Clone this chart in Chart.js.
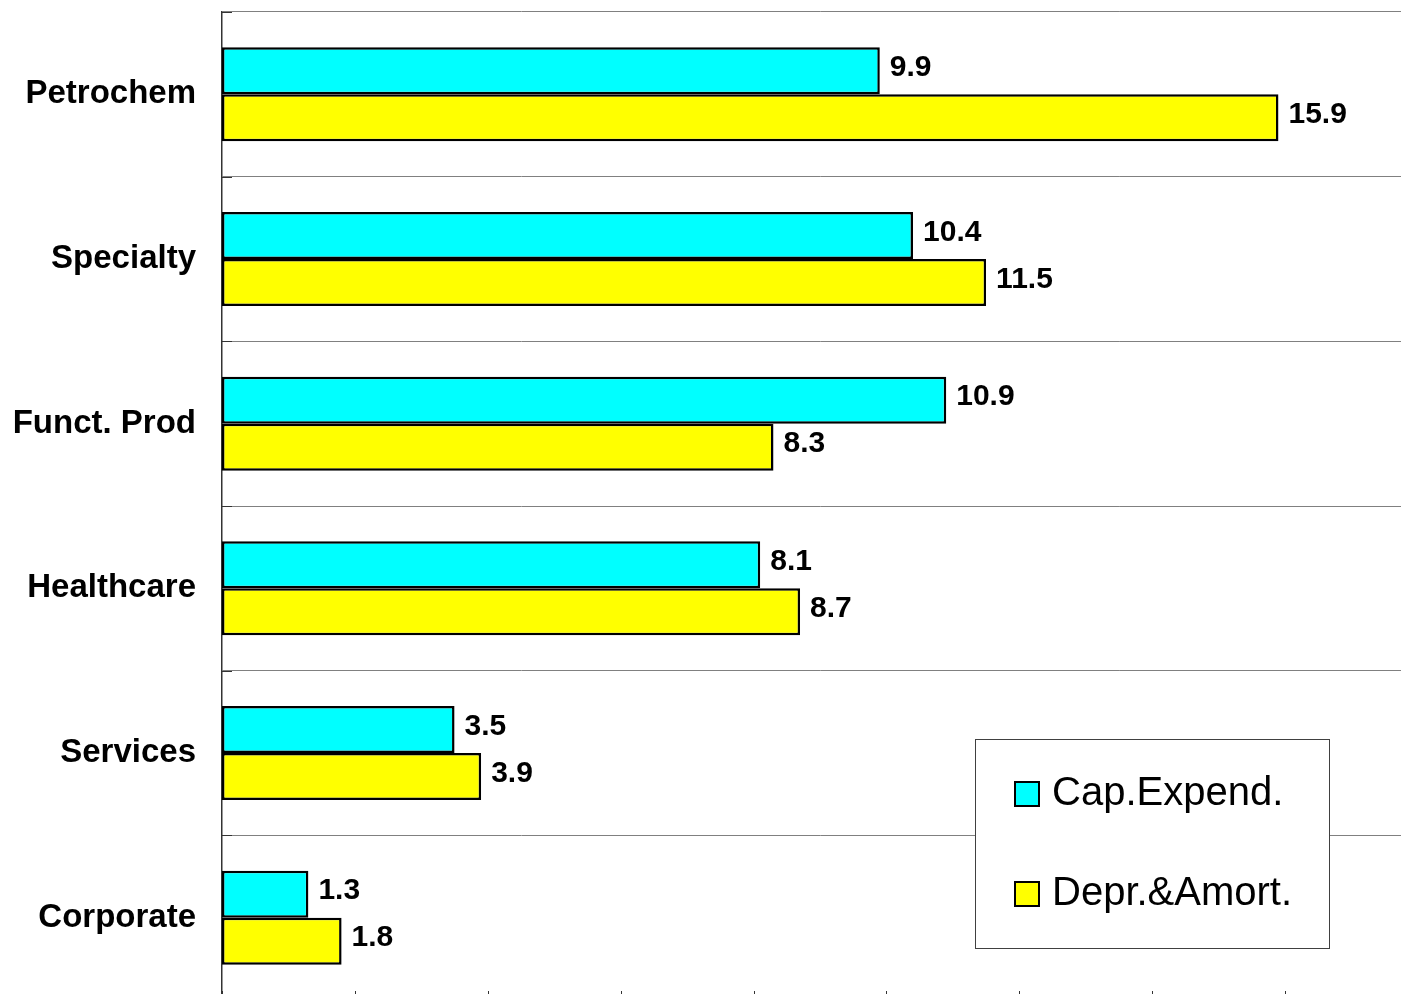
<!DOCTYPE html>
<html>
<head>
<meta charset="utf-8">
<script src="https://cdn.jsdelivr.net/npm/chart.js@4.4.0/dist/chart.umd.min.js"></script>
<style>
  html, body { margin: 0; padding: 0; background: #fff; overflow: hidden; }
  #wrap { width: 1418px; height: 1000px; }
</style>
</head>
<body>
<div id="wrap"><canvas id="capexChart" width="1418" height="1000"></canvas></div>
<script>
// segments and values
const segments = ["Petrochem", "Specialty", "Funct. Prod", "Healthcare", "Services", "Corporate"];
const capExpend = [9.9, 10.4, 10.9, 8.1, 3.5, 1.3];
const deprAmort = [15.9, 11.5, 8.3, 8.7, 3.9, 1.8];
const seriesNames = ["Cap.Expend.", "Depr.&Amort."];
const seriesColors = ["#00ffff", "#ffff00"];

const FONT = "'Liberation Sans', Arial, sans-serif";

// value labels at the end of every bar
const valueLabels = {
  id: "valueLabels",
  afterDatasetsDraw(chart) {
    const ctx = chart.ctx;
    ctx.save();
    ctx.font = "bold 30px " + FONT;
    ctx.fillStyle = "#000";
    ctx.textAlign = "left";
    ctx.textBaseline = "middle";
    chart.data.datasets.forEach((ds, i) => {
      chart.getDatasetMeta(i).data.forEach((bar, j) => {
        ctx.fillText(ds.data[j].toFixed(1), bar.x + 10, bar.y - 3);
      });
    });
    ctx.restore();
  },
};

// short tick marks pointing into the plot, plus the boxed legend
const axisTicksAndLegend = {
  id: "axisTicksAndLegend",
  afterDraw(chart) {
    const ctx = chart.ctx;
    const area = chart.chartArea;
    const x = chart.scales.x;
    const y = chart.scales.y;
    ctx.save();
    ctx.strokeStyle = "#333";
    ctx.lineWidth = 1;

    // category boundaries on the left axis
    const band = (y.getPixelForTick(1) - y.getPixelForTick(0));
    for (let i = 0; i <= segments.length; i++) {
      const py = Math.round(y.getPixelForTick(0) - band / 2 + i * band) + 0.5;
      ctx.beginPath();
      ctx.moveTo(area.left, py);
      ctx.lineTo(area.left + 10, py);
      ctx.stroke();
    }

    // value ticks along the bottom
    x.ticks.forEach((t) => {
      const px = Math.round(x.getPixelForValue(t.value)) + 0.5;
      ctx.beginPath();
      ctx.moveTo(px, area.bottom);
      ctx.lineTo(px, area.bottom - 9);
      ctx.stroke();
    });

    // legend box
    const lx = 975, ly = 739, lw = 354, lh = 209;
    ctx.fillStyle = "#fff";
    ctx.fillRect(lx, ly, lw, lh);
    ctx.strokeStyle = "#404040";
    ctx.strokeRect(lx + 0.5, ly + 0.5, lw, lh);

    ctx.font = "40px " + FONT;
    ctx.textBaseline = "middle";
    ctx.textAlign = "left";
    seriesNames.forEach((name, i) => {
      const cy = 794 + i * 100;
      ctx.fillStyle = seriesColors[i];
      ctx.fillRect(1015, cy - 12, 24, 24);
      ctx.strokeStyle = "#000";
      ctx.lineWidth = 2;
      ctx.strokeRect(1015, cy - 12, 24, 24);
      ctx.fillStyle = "#000";
      ctx.fillText(name, 1052, cy);
    });
    ctx.restore();
  },
};

new Chart(document.getElementById("capexChart"), {
  type: "bar",
  data: {
    labels: segments,
    datasets: [
      {
        label: seriesNames[0],
        data: capExpend,
        backgroundColor: seriesColors[0],
        borderColor: "#000",
        borderWidth: 2.5,
        borderSkipped: false,
      },
      {
        label: seriesNames[1],
        data: deprAmort,
        backgroundColor: seriesColors[1],
        borderColor: "#000",
        borderWidth: 2.5,
        borderSkipped: false,
      },
    ],
  },
  options: {
    indexAxis: "y",
    responsive: false,
    animation: false,
    layout: { padding: { top: 12, right: 0, bottom: 0, left: 0 } },
    datasets: { bar: { categoryPercentage: 0.571, barPercentage: 1.0 } },
    plugins: {
      legend: { display: false },
      tooltip: { enabled: false },
    },
    scales: {
      x: {
        min: 0,
        max: 18,
        ticks: { display: false, stepSize: 2 },
        grid: { display: false },
        border: { display: false },
        afterFit(scale) {
          scale.height = 0;
          scale.paddingLeft = 0;
          scale.paddingRight = 0;
        },
      },
      y: {
        ticks: {
          color: "#000",
          font: { family: FONT, size: 33, weight: "bold" },
          padding: 26,
        },
        grid: { color: "#808080", lineWidth: 1, drawTicks: false, offset: true },
        border: { color: "#333", width: 1.5 },
        afterFit(scale) {
          scale.width = 222;
          scale.paddingTop = 0;
          scale.paddingBottom = 0;
        },
      },
    },
  },
  plugins: [valueLabels, axisTicksAndLegend],
});
</script>
</body>
</html>
